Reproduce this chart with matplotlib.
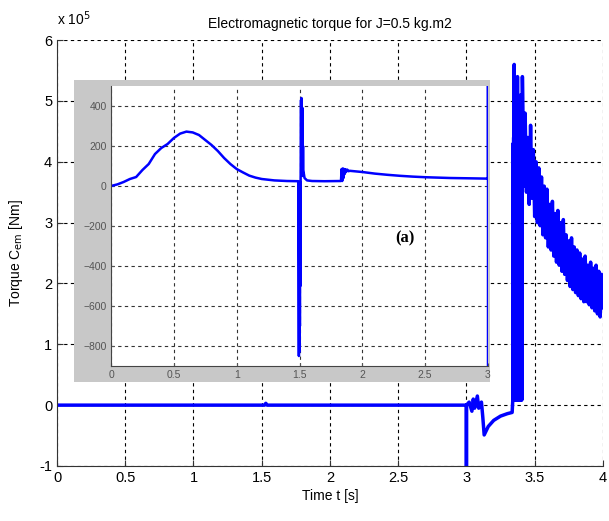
import matplotlib
matplotlib.use("Agg")
import matplotlib.pyplot as plt
from matplotlib.patches import Rectangle
from matplotlib.ticker import FuncFormatter

plt.rcParams["font.family"] = "Liberation Sans"
plt.rcParams["font.size"] = 10
plt.rcParams["path.simplify"] = False

# main curve, torque in N.m (axis shown in x 10^5)
t_main = [0, 1.52, 1.53, 1.54, 3.0, 3.0, 3.0, 3.02, 3.04, 3.05, 3.06, 3.08, 3.09, 3.10,
          3.11, 3.12, 3.13, 3.16, 3.20, 3.25, 3.30, 3.335,
          3.340, 3.342, 3.344, 3.346, 3.348, 3.350, 3.352, 3.354, 3.356, 3.358, 3.360,
          3.362, 3.364, 3.366, 3.368, 3.370, 3.372, 3.374, 3.376, 3.378, 3.380, 3.382,
          3.384, 3.386, 3.388, 3.390, 3.392, 3.394, 3.396, 3.398, 3.400, 3.402, 3.404,
          3.406, 3.408,
          3.41, 3.42, 3.43, 3.44, 3.45, 3.46, 3.47, 3.48, 3.49, 3.50,
          3.51, 3.52, 3.53, 3.54, 3.55, 3.56, 3.57, 3.58, 3.59, 3.60,
          3.61, 3.62, 3.63, 3.64, 3.65, 3.66, 3.67, 3.68, 3.69, 3.70,
          3.71, 3.72, 3.73, 3.74, 3.75, 3.76, 3.77, 3.78, 3.79, 3.80,
          3.81, 3.82, 3.83, 3.84, 3.85, 3.86, 3.87, 3.88, 3.89, 3.90,
          3.91, 3.92, 3.93, 3.94, 3.95, 3.96, 3.97, 3.98, 3.99, 4.00]
c_main = [0, 0, 0.03, 0, 0, -1.2, 0, 0.05, -0.1, 0.1, -0.05, 0.15, -0.05, 0.0,
          0.05, -0.2, -0.49, -0.35, -0.25, -0.18, -0.14, -0.12,
          0.10, 4.3, 0.08, 4.4, 0.10, 5.6, 0.08, 4.5, 0.10, 4.6, 0.10,
          5.0, 0.08, 4.4, 0.10, 4.3, 0.08, 5.4, 0.10, 4.5, 0.08, 4.4,
          0.10, 4.9, 0.08, 4.3, 0.10, 4.5, 0.08, 5.1, 0.10, 4.4, 0.08,
          4.6, 0.10,
          5.4, 3.6, 4.8, 3.5, 4.4, 3.3, 4.6, 3.4, 4.2, 3.1,
          4.0, 3.0, 3.9, 2.95, 3.75, 2.8, 3.6, 2.75, 3.55, 2.6,
          3.3, 2.55, 3.35, 2.45, 3.15, 2.35, 3.2, 2.3, 3.0, 2.2,
          3.05, 2.15, 2.8, 2.05, 2.7, 1.95, 2.75, 1.9, 2.6, 1.85,
          2.55, 1.8, 2.5, 1.75, 2.4, 1.7, 2.45, 1.7, 2.3, 1.65,
          2.35, 1.6, 2.25, 1.55, 2.3, 1.5, 2.2, 1.45, 2.15, 1.6]
c_main = [v * 1e5 for v in c_main]

# inset (a): zoom on 0..3 s, torque in N.m
t_zoom = [0, 0.05, 0.1, 0.15, 0.2, 0.25, 0.3, 0.35, 0.4, 0.45, 0.5, 0.55, 0.6, 0.65,
          0.7, 0.75, 0.8, 0.85, 0.9, 0.95, 1.0, 1.05, 1.1, 1.15, 1.2, 1.3, 1.4, 1.49,
          1.495, 1.497, 1.499, 1.501, 1.503, 1.505, 1.507, 1.509,
          1.512, 1.514, 1.516, 1.518, 1.520, 1.522, 1.524, 1.526, 1.528, 1.53,
          1.54, 1.56, 1.6, 1.7, 1.83, 1.835, 1.84, 1.845, 1.85, 1.855, 1.86, 1.865,
          1.87, 1.88, 1.89, 1.9, 2.0, 2.1, 2.2, 2.3, 2.4, 2.5, 2.6, 2.7, 2.8, 2.9,
          2.99, 3.0, 3.0, 3.0]
c_zoom = [0, 8, 20, 35, 45, 80, 110, 160, 190, 210, 240, 262, 272, 268,
          255, 230, 205, 175, 140, 110, 85, 68, 52, 42, 35, 28, 25, 24,
          -850, 20, -830, 10, -700, 20, -500, 25,
          430, 100, 440, 80, 380, 60, 390, 50, 200, 80,
          40, 28, 25, 24, 25, 85, 25, 88, 40, 85, 60, 84,
          70, 82, 74, 76, 70, 62, 56, 51, 47, 44, 42, 40, 39, 38,
          37, 37, 700, -1000]

x_ticks = [0, 0.5, 1, 1.5, 2, 2.5, 3, 3.5, 4]
y_ticks = [-1e5, 0, 1e5, 2e5, 3e5, 4e5, 5e5, 6e5]
zx_ticks = [0, 0.5, 1, 1.5, 2, 2.5, 3]
zy_ticks = [-800, -600, -400, -200, 0, 200, 400]

fig = plt.figure(figsize=(6.09, 5.21), dpi=100)
ax = fig.add_axes([0.0936, 0.1056, 0.8964, 0.8174])
ax.plot(t_main, c_main, color="#0000ff", lw=2.5, solid_joinstyle="round")
ax.set_xlim(0, 4)
ax.set_ylim(-1e5, 6e5)
ax.set_xticks(x_ticks)
ax.set_xticklabels(["0", "0.5", "1", "1.5", "2", "2.5", "3", "3.5", "4"])
ax.set_yticks(y_ticks)
ax.yaxis.set_major_formatter(FuncFormatter(lambda v, p: "%g" % (v / 1e5)))
ax.grid(True, color="black", linestyle=(0, (3, 3)), lw=0.8)
ax.tick_params(direction="in", length=4, color="#333333", labelsize=10.5)
ax.spines["top"].set_visible(False)
ax.spines["right"].set_visible(False)
for s in ["left", "bottom"]:
    ax.spines[s].set_color("#333333")
ax.set_title("Electromagnetic torque for J=0.5 kg.m2", fontsize=10, pad=9)
ax.set_xlabel("Time t [s]", fontsize=10, labelpad=3)
ax.set_ylabel("Torque C$_{\\rm em}$ [Nm]", fontsize=10, labelpad=10)
ax.text(0.0, 1.035, "x 10$^5$", transform=ax.transAxes, fontsize=10)

# gray frame of pasted inset
fig.patches.append(Rectangle((0.1215, 0.2668), 0.683, 0.5797, transform=fig.transFigure,
                             facecolor="#c8c8c8", edgecolor="none", zorder=1))

ins = fig.add_axes([0.1823, 0.2975, 0.619, 0.5374], zorder=2)
ins.plot(t_zoom, c_zoom, color="#0000ff", lw=1.8, solid_joinstyle="round")
ins.set_xlim(0, 3)
ins.set_ylim(-900, 500)
ins.set_xticks(zx_ticks)
ins.set_xticklabels(["0", "0.5", "1", "1.5", "2", "2.5", "3"])
ins.set_yticks(zy_ticks)
ins.grid(True, color="#333333", linestyle=(0, (3, 3)), lw=0.8)
ins.tick_params(direction="in", length=2, color="#555555", labelsize=7.5,
                labelcolor="#555555", pad=3)
ins.spines["top"].set_visible(False)
ins.spines["right"].set_visible(False)
for s in ["left", "bottom"]:
    ins.spines[s].set_color("#444444")
ins.text(0.78, 0.455, "(a)", transform=ins.transAxes, fontsize=12, fontweight="bold",
         family="Liberation Serif", ha="center", va="center")

fig.savefig("out.png", dpi=100)
